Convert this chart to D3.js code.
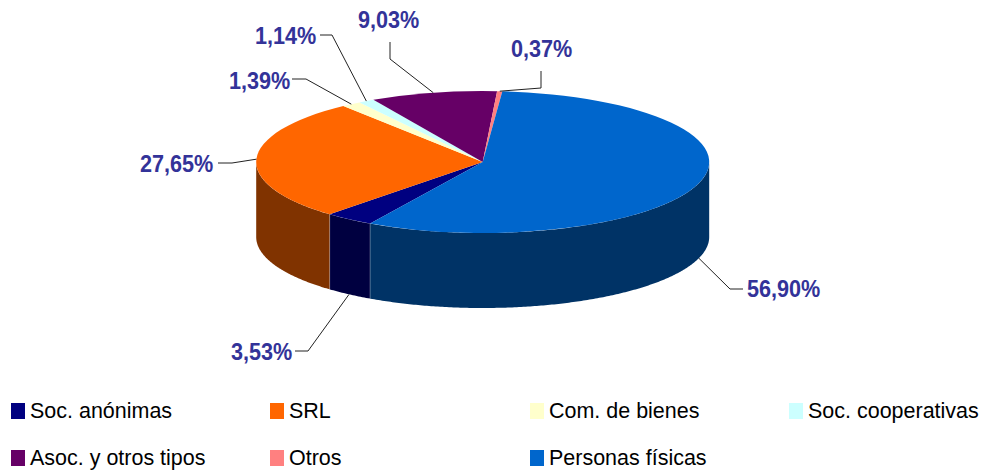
<!DOCTYPE html>
<html>
<head>
<meta charset="utf-8">
<script src="https://cdn.jsdelivr.net/npm/d3@7"></script>
<style>
    html, body { margin: 0; padding: 0; background: #fff; }
    text { font-family: "Liberation Sans", Arial, sans-serif; }
</style>
</head>
<body>
<div id="chart"></div>
<script>
const categories = ["Soc. anónimas", "SRL", "Com. de bienes", "Soc. cooperativas", "Asoc. y otros tipos", "Otros", "Personas físicas"];
const values = [3.53, 27.65, 1.39, 1.14, 9.03, 0.37, 56.90];
const valueLabels = ["3,53%", "27,65%", "1,39%", "1,14%", "9,03%", "0,37%", "56,90%"];
const topColors = ["#000080", "#ff6600", "#ffffcc", "#ccffff", "#660066", "#ff8080", "#0066cc"];
const sideColors = ["#000040", "#803300", "#808066", "#668080", "#330033", "#804040", "#003366"];

// hand placed labels: elbow of the leader, end of the leader, text position
const elbows = [[308, 351], [232, 163], [306, 79], [332, 35], [390, 59], [541, 88], [730, 289]];
const leaderEnds = [[295, 351], [218, 163], [292, 79], [320, 35], [390, 42], [541, 71], [743, 289]];
const labelPos = [[231, 360], [140, 172], [229, 89], [255, 44], [358, 28], [511, 57], [747, 297]];

const legendCols = [11, 270, 530, 789];
const legendRows = [403, 450];

const width = 984, height = 474;
const cx = 482.7, cy = 162, rx = 226.5, ry = 71, depth = 75;
const startDeg = 209.8;

const svg = d3.select("#chart").append("svg")
    .attr("width", width)
    .attr("height", height)
    .style("display", "block");

const pie = d3.pie().sort(null)
    .startAngle(startDeg * Math.PI / 180)
    .endAngle((startDeg + 360) * Math.PI / 180);
const slices = pie(values);

// angles run clockwise from the top, like d3.arc
function ex(a) { return cx + rx * Math.sin(a); }
function ey(a) { return cy - ry * Math.cos(a); }

// walls, only the part that faces the viewer
const wall = d3.area()
    .x(function (a) { return ex(a); })
    .y0(function (a) { return ey(a); })
    .y1(function (a) { return ey(a) + depth; });

const front = [[Math.PI / 2, Math.PI * 1.5], [Math.PI * 2.5, Math.PI * 3.5]];
const sides = svg.append("g");
slices.forEach(function (s, i) {
    front.forEach(function (f) {
        let a0 = Math.max(s.startAngle, f[0]);
        let a1 = Math.min(s.endAngle, f[1]);
        if (a1 <= a0) return;
        let steps = d3.range(a0, a1, 0.01).concat([a1]);
        sides.append("path")
            .attr("d", wall(steps))
            .attr("fill", sideColors[i]);
        [s.startAngle, s.endAngle].forEach(function (a) {
            if (a < f[0] || a > f[1]) return;
            sides.append("line")
                .attr("x1", ex(a)).attr("x2", ex(a))
                .attr("y1", ey(a)).attr("y2", ey(a) + depth)
                .attr("stroke", "#fff")
                .attr("stroke-opacity", 0.3)
                .attr("stroke-width", 0.6);
        });
    });
});

// top face is a circle squashed into an ellipse
const arc = d3.arc().innerRadius(0).outerRadius(rx);
svg.append("g")
    .attr("transform", "translate(" + cx + "," + cy + ") scale(1," + (ry / rx) + ")")
    .selectAll("path")
    .data(slices)
    .enter().append("path")
    .attr("d", arc)
    .attr("fill", function (d, i) { return topColors[i]; });

// leaders
const leader = d3.line();
svg.append("g").selectAll("path")
    .data(slices)
    .enter().append("path")
    .attr("d", function (d, i) {
        let mid = (d.startAngle + d.endAngle) / 2;
        let onWall = Math.cos(mid) < 0 && elbows[i][1] > 200;
        let anchor = [ex(mid), ey(mid) + (onWall ? depth : 0)];
        return leader([leaderEnds[i], elbows[i], anchor]);
    })
    .attr("fill", "none")
    .attr("stroke", "#222")
    .attr("stroke-width", 1);

svg.append("g").selectAll("text")
    .data(valueLabels)
    .enter().append("text")
    .attr("transform", function (d, i) {
        return "translate(" + labelPos[i][0] + "," + labelPos[i][1] + ") scale(0.94,1)";
    })
    .attr("font-size", 23)
    .attr("font-weight", "bold")
    .attr("fill", "#333399")
    .text(function (d) { return d; });

// legend, four per row
const legend = svg.append("g").selectAll("g")
    .data(categories)
    .enter().append("g")
    .attr("transform", function (d, i) {
        return "translate(" + legendCols[i % 4] + "," + legendRows[Math.floor(i / 4)] + ")";
    });
legend.append("rect")
    .attr("width", 14)
    .attr("height", 16)
    .attr("fill", function (d, i) { return topColors[i]; });
legend.append("text")
    .attr("transform", "translate(19,15) scale(0.977,1)")
    .attr("font-size", 22)
    .attr("fill", "#000")
    .text(function (d) { return d; });
</script>
</body>
</html>
